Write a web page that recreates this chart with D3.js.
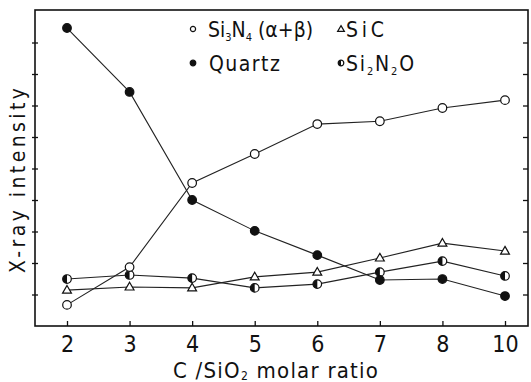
<!DOCTYPE html>
<html lang="en">
<head>
  <meta charset="UTF-8">
  <title>X-ray intensity vs C/SiO2 molar ratio</title>
  <script src="https://d3js.org/d3.v7.min.js"></script>
  <style>
    body { margin: 0; background: #fff; }
    svg text { font-family: "DejaVu Sans Condensed", "DejaVu Sans", sans-serif; fill: #111; }
    .line { fill: none; stroke: #222; stroke-width: 1.1px; }
  </style>
</head>
<body>
  <div id="chart"></div>
  <script>
    // categories on the x axis (molar ratio)
    const ratios = ["2", "3", "4", "5", "6", "7", "8", "10"];

    // series values (arbitrary intensity units 0..10)
    const si3n4 = [0.67, 1.87, 4.54, 5.46, 6.41, 6.5, 6.92, 7.17];
    const quartz = [9.46, 7.43, 4.0, 3.02, 2.25, 1.46, 1.49, 0.95];
    const sic = [1.14, 1.24, 1.21, 1.56, 1.71, 2.16, 2.63, 2.38];
    const si2n2o = [1.49, 1.62, 1.52, 1.21, 1.33, 1.71, 2.06, 1.59];

    const yTicks = [1, 2, 3, 4, 5, 6, 7, 8, 9];

    const width = 531, height = 382;
    const frame = { left: 35, right: 528, top: 10, bottom: 326 };

    const svg = d3.select('#chart').append('svg')
      .attr('width', width)
      .attr('height', height);

    const x = d3.scalePoint().domain(ratios).range([67, 505]);
    const y = d3.scaleLinear().domain([0, 10]).range([frame.bottom, frame.top + 1]);

    // stretch a text to a given width by letter spacing
    function fitWidth(t, len, vertical) {
      const node = t.node();
      const box = node.getBBox();
      const natural = box.width;
      const n = node.textContent.length;
      if (n > 1) t.attr('letter-spacing', Math.max(0, (len - natural) / (n - 1)).toFixed(2));
    }

    // frame
    svg.append('rect')
      .attr('x', frame.left).attr('y', frame.top)
      .attr('width', frame.right - frame.left)
      .attr('height', frame.bottom - frame.top)
      .attr('fill', 'none').attr('stroke', '#111').attr('stroke-width', 1.6);

    // x axis: ticks pointing up into the plot
    const xAxis = svg.append('g')
      .attr('transform', `translate(0,${frame.bottom})`)
      .call(d3.axisBottom(x).tickSizeInner(-5).tickSizeOuter(0));
    xAxis.select('.domain').remove();
    xAxis.selectAll('line').attr('stroke', '#111').attr('stroke-width', 1.3);
    xAxis.selectAll('text')
      .attr('y', 26).attr('dy', 0)
      .attr('font-size', 23).attr('fill', '#111');

    // y axes, unlabeled ticks on both sides
    const yl = svg.append('g')
      .attr('transform', `translate(${frame.left + 3},0)`)
      .call(d3.axisLeft(y).tickValues(yTicks).tickSize(6).tickFormat(''));
    yl.select('.domain').remove();
    yl.selectAll('line').attr('stroke', '#111').attr('stroke-width', 1.3);

    const yr = svg.append('g')
      .attr('transform', `translate(${frame.right},0)`)
      .call(d3.axisLeft(y).tickValues(yTicks).tickSize(5).tickFormat(''));
    yr.select('.domain').remove();
    yr.selectAll('line').attr('stroke', '#111').attr('stroke-width', 1.3);

    // axis titles
    const xt = svg.append('text')
      .attr('x', 173).attr('y', 378)
      .attr('font-size', 22);
    xt.append('tspan').text('C /SiO');
    xt.append('tspan').attr('font-size', 12).attr('dy', 2).text('2');
    xt.append('tspan').attr('dy', -2).text(' molar ratio');
    fitWidth(xt, 205);

    const yt = svg.append('text')
      .attr('transform', 'translate(25,273) rotate(-90)')
      .attr('font-size', 21)
      .text('X-ray intensity');
    fitWidth(yt, 185);

    const line = d3.line()
      .x((d, i) => x(ratios[i]))
      .y(d => y(d));

    function circle(g, fill, r = 4.3) {
      g.append('circle').attr('r', r)
        .attr('fill', fill).attr('stroke', '#111').attr('stroke-width', 1.2);
    }
    function halfCircle(g, r = 4.3) {
      circle(g, '#fff', r);
      g.append('path')
        .attr('d', d3.arc()({ innerRadius: 0, outerRadius: r, startAngle: Math.PI, endAngle: 2 * Math.PI }))
        .attr('fill', '#111');
    }
    function triangle(g, size = 34) {
      g.append('path')
        .attr('d', d3.symbol(d3.symbolTriangle, size)())
        .attr('transform', 'translate(0,0.5)')
        .attr('fill', '#fff').attr('stroke', '#111').attr('stroke-width', 1.2);
    }

    const series = [
      { name: 'si2n2o', values: si2n2o, marker: g => halfCircle(g) },
      { name: 'sic', values: sic, marker: g => triangle(g) },
      { name: 'quartz', values: quartz, marker: g => circle(g, '#111') },
      { name: 'si3n4', values: si3n4, marker: g => circle(g, '#fff') }
    ];

    series.forEach(s => {
      svg.append('path').attr('class', 'line').attr('d', line(s.values));
    });
    series.forEach(s => {
      svg.selectAll(null)
        .data(s.values)
        .enter()
        .append('g')
        .attr('transform', (d, i) => `translate(${x(ratios[i])},${y(d)})`)
        .each(function () { s.marker(d3.select(this)); });
    });

    // legend
    const legend = svg.append('g');
    function legendItem(mx, tx, baseline, len, marker, parts) {
      const m = legend.append('g').attr('transform', `translate(${mx},${baseline - 8})`);
      marker(m);
      const t = legend.append('text')
        .attr('x', tx).attr('y', baseline)
        .attr('font-size', 21);
      parts.forEach(p => {
        const ts = t.append('tspan').text(p[0]);
        if (p[1] === 'sub') ts.attr('font-size', 11).attr('dy', 4);
        if (p[1] === 'up') ts.attr('dy', -4);
      });
      fitWidth(t, len);
    }
    legendItem(193, 208, 37, 100, g => circle(g, '#fff', 2.6),
      [['Si'], ['3', 'sub'], ['N', 'up'], ['4', 'sub'], [' (α+β)', 'up']]);
    legendItem(341, 346, 37, 38, g => triangle(g, 20), [['SiC']]);
    legendItem(193, 209, 71, 71, g => circle(g, '#111', 2.8),
      [['Quartz']]);
    legendItem(341, 346, 71, 68, g => halfCircle(g, 2.8),
      [['Si'], ['2', 'sub'], ['N', 'up'], ['2', 'sub'], ['O', 'up']]);
  </script>
</body>
</html>
